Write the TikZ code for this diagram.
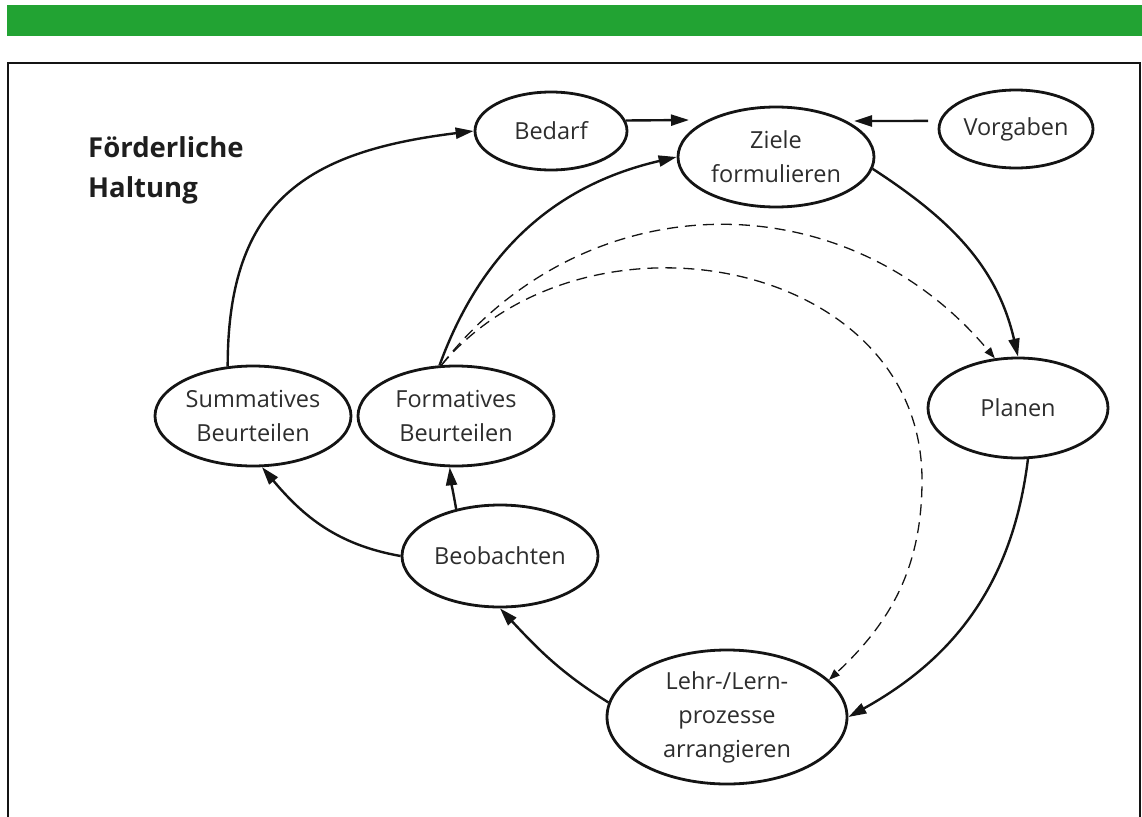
\documentclass[tikz,border=0pt]{standalone}
\usepackage{fontspec}
\setmainfont{Open Sans}
\usetikzlibrary{shapes.geometric,arrows.meta}
\definecolor{bargreen}{RGB}{34,163,51}
\definecolor{txt}{RGB}{45,45,45}
\definecolor{ttl}{RGB}{30,30,30}
\begin{document}
\begin{tikzpicture}[x=1pt,y=-1pt,
  elli/.style={draw=black!92, line width=2.8pt, ellipse, inner sep=0pt, align=center,
    text=txt, font=\fontsize{23.5}{34}\selectfont},
  arr/.style={line width=2.4pt, black!92, -{Triangle[length=18pt,width=11pt]}},
  darr/.style={line width=1.3pt, black!92, dash pattern=on 11pt off 7pt,
    -{Triangle[length=11pt,width=8pt]}},
  titletext/.style={anchor=base west, inner sep=0pt, text=ttl,
    font=\fontsize{27.5}{40}\selectfont\bfseries}]
\useasboundingbox (0,0) rectangle (1142,816);
\fill[bargreen] (7,5) rectangle (1142,36);
\draw[line width=2.5pt, black!92] (8,820) -- (8,63) -- (1140,63) -- (1140,820);

\node[titletext] (t1) at (88,157) {Förderliche};
\node[titletext] (t2) at (88,197) {Haltung};

\node[elli, minimum width=152pt, minimum height=78pt] (bedarf) at (551,131) {Bedarf};
\node[elli, minimum width=196pt, minimum height=100pt] (ziele) at (776,157) {Ziele\\formulieren};
\node[elli, minimum width=154pt, minimum height=78pt] (vorg) at (1016,129) {Vorgaben};
\node[elli, minimum width=196pt, minimum height=100pt] (summ) at (253,416) {Summatives\\Beurteilen};
\node[elli, minimum width=196pt, minimum height=100pt] (form) at (456,416) {Formatives\\Beurteilen};
\node[elli, minimum width=196pt, minimum height=102pt] (beob) at (500,556) {Beobachten};
\node[elli, minimum width=180pt, minimum height=100pt] (planen) at (1018,408) {Planen};
\node[elli, minimum width=240pt, minimum height=134pt] (lehr) at (727,717) {Lehr-/Lern-\\prozesse\\arrangieren};

\coordinate (zinA) at (689,120);
\coordinate (zinB) at (854,121);
\coordinate (dmid) at (922,480);

\draw[arr] (summ.117) to[out=90,in=187,looseness=1.25] (bedarf.west);
\draw[arr] (bedarf.8.6) -- (zinA);
\draw[arr, shorten <=11pt] (vorg.174) -- (zinB);
\draw[arr] (ziele.-7) to[out=-33,in=103] (planen.north);
\draw[arr] (form.108) to[out=70,in=193] (ziele.west);
\draw[arr] (beob.133) to[out=100,in=-84] (form.-97);
\draw[arr] (beob.west) to[out=170,in=-50] (summ.-80);
\draw[arr] (lehr.173) to[out=148,in=-47] (beob.south);
\draw[arr] (planen.-79) to[out=-97,in=29] (lehr.east);

\draw[darr] (form.106) to[out=52,in=130,looseness=1.08] (planen.115);
\draw[darr] (form.106) to[out=50,in=90,looseness=1.15] (dmid) to[out=-90,in=43] (lehr.20);
\end{tikzpicture}
\end{document}
